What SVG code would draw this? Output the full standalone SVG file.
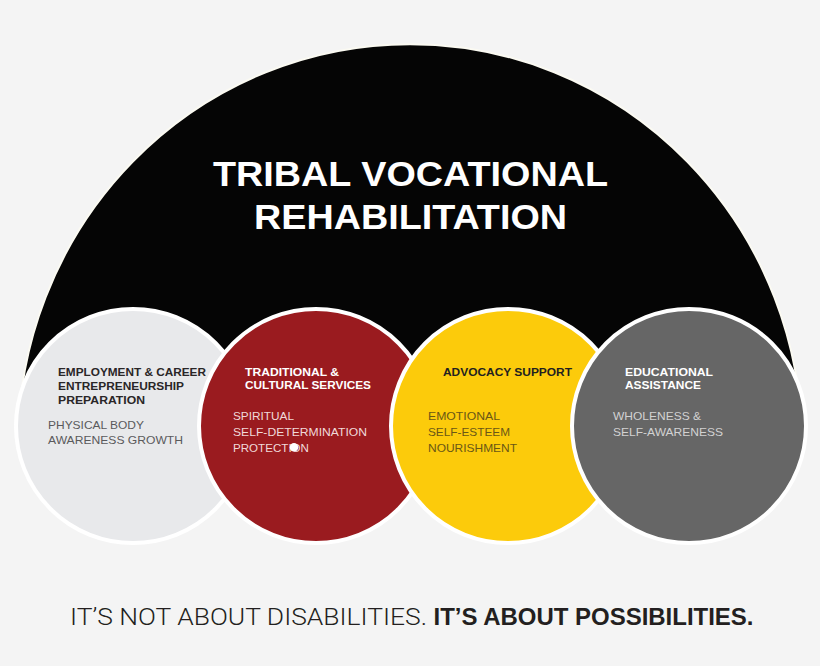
<svg xmlns="http://www.w3.org/2000/svg" width="820" height="666" viewBox="0 0 820 666">
<style>
.t{font-family:"Liberation Sans",Arial,sans-serif;}
.h{font-weight:bold;font-size:11.5px;}
.r{font-size:11.8px;}
.circ{stroke:#ffffff;stroke-width:4;}
.light{font-family:Roboto,"Liberation Sans",Arial,sans-serif;font-weight:300;}
</style>
<rect width="820" height="666" fill="#f4f4f4"/>
<g id="dome">
<path d="M18,445 A392,401 0 0 1 802,445 Z" fill="#050505" stroke="#fbfaf2" stroke-width="2"/>
<text class="t" x="213" y="186" font-size="35" font-weight="bold" fill="#ffffff" textLength="395" lengthAdjust="spacingAndGlyphs">TRIBAL VOCATIONAL</text>
<text class="t" x="254" y="229" font-size="35" font-weight="bold" fill="#ffffff" textLength="313" lengthAdjust="spacingAndGlyphs">REHABILITATION</text>
</g>
<g id="connectors"></g>
<g id="node-employment">
<circle class="circ" cx="133" cy="426" r="117" fill="#e8e9eb"/>
<text class="t h" fill="#2a2627"><tspan x="58" y="376" textLength="148" lengthAdjust="spacingAndGlyphs">EMPLOYMENT &amp; CAREER</tspan><tspan x="58" y="390" textLength="126" lengthAdjust="spacingAndGlyphs">ENTREPRENEURSHIP</tspan><tspan x="58" y="403.5" textLength="87" lengthAdjust="spacingAndGlyphs">PREPARATION</tspan></text>
<text class="t r" fill="#5a5a5c"><tspan x="48" y="428.5" textLength="96" lengthAdjust="spacingAndGlyphs">PHYSICAL BODY</tspan><tspan x="48" y="444" textLength="135" lengthAdjust="spacingAndGlyphs">AWARENESS GROWTH</tspan></text>
</g>
<g id="node-traditional">
<circle class="circ" cx="316" cy="426" r="117" fill="#9a1b1f"/>
<text class="t h" fill="#ffffff"><tspan x="245" y="375.5" textLength="94" lengthAdjust="spacingAndGlyphs">TRADITIONAL &amp;</tspan><tspan x="245" y="389" textLength="126" lengthAdjust="spacingAndGlyphs">CULTURAL SERVICES</tspan></text>
<text class="t r" fill="#f0d9d9"><tspan x="233" y="420" textLength="61" lengthAdjust="spacingAndGlyphs">SPIRITUAL</tspan><tspan x="233" y="436" textLength="134" lengthAdjust="spacingAndGlyphs">SELF-DETERMINATION</tspan><tspan x="233" y="451.5" textLength="76" lengthAdjust="spacingAndGlyphs">PROTECTION</tspan></text>
<circle cx="294" cy="447.3" r="4.3" fill="#ffffff"/>
</g>
<g id="node-advocacy">
<circle class="circ" cx="508" cy="426" r="117" fill="#fccb0b"/>
<text class="t h" fill="#231f20" x="443" y="376" textLength="129" lengthAdjust="spacingAndGlyphs">ADVOCACY SUPPORT</text>
<text class="t r" fill="#6a5716"><tspan x="428" y="420" textLength="72" lengthAdjust="spacingAndGlyphs">EMOTIONAL</tspan><tspan x="428" y="436" textLength="82" lengthAdjust="spacingAndGlyphs">SELF-ESTEEM</tspan><tspan x="428" y="452" textLength="89" lengthAdjust="spacingAndGlyphs">NOURISHMENT</tspan></text>
</g>
<g id="node-educational">
<circle class="circ" cx="689" cy="426" r="117" fill="#666666"/>
<text class="t h" fill="#ffffff"><tspan x="625" y="376" textLength="88" lengthAdjust="spacingAndGlyphs">EDUCATIONAL</tspan><tspan x="625" y="389" textLength="76" lengthAdjust="spacingAndGlyphs">ASSISTANCE</tspan></text>
<text class="t r" fill="#d2d2d2"><tspan x="613" y="420" textLength="88" lengthAdjust="spacingAndGlyphs">WHOLENESS &amp;</tspan><tspan x="613" y="436" textLength="110" lengthAdjust="spacingAndGlyphs">SELF-AWARENESS</tspan></text>
</g>
<g id="tagline">
<text class="light" x="70" y="624.5" font-size="24.5" fill="#231f20" textLength="357" lengthAdjust="spacingAndGlyphs">IT’S NOT ABOUT DISABILITIES.</text>
<text class="t" x="433.5" y="624.5" font-size="24.5" font-weight="bold" fill="#231f20" textLength="320" lengthAdjust="spacingAndGlyphs">IT’S ABOUT POSSIBILITIES.</text>
</g>
</svg>
